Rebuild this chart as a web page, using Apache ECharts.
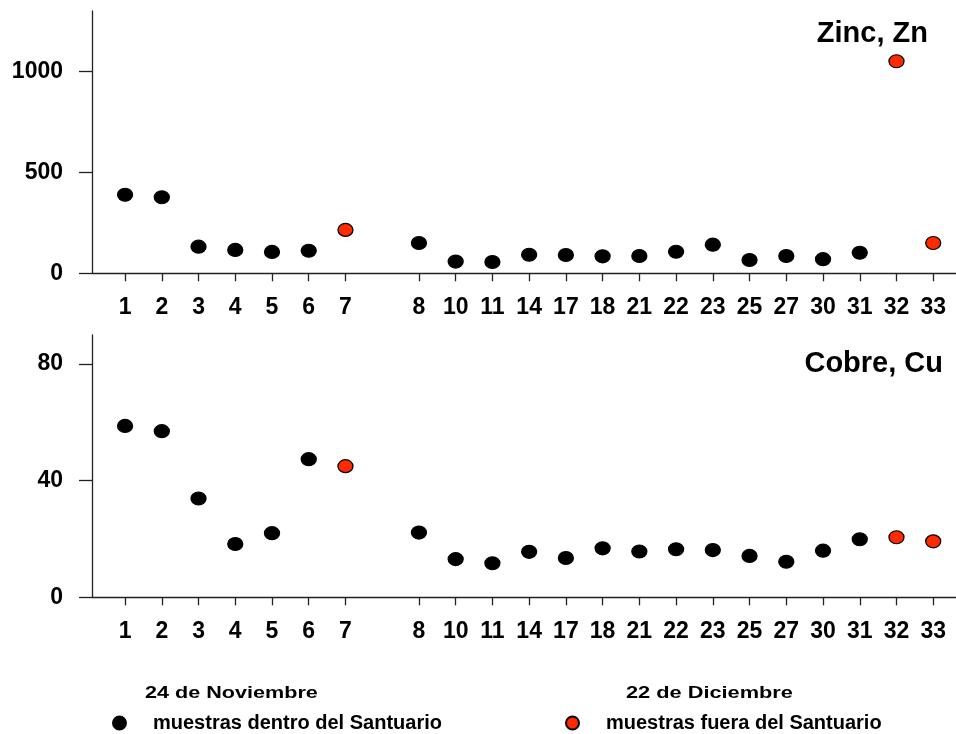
<!DOCTYPE html>
<html>
<head>
<meta charset="utf-8">
<script src="https://cdn.jsdelivr.net/npm/echarts@6/dist/echarts.min.js"></script>
<style>
  html, body { margin: 0; padding: 0; background: #fff; }
  #chart { width: 956px; height: 734px; }
</style>
</head>
<body>
<div id="chart"></div>
<script>
// Sample station numbers, in plotting order
const samples = ['1', '2', '3', '4', '5', '6', '7', '8', '10', '11', '14', '17', '18', '21', '22', '23', '25', '27', '30', '31', '32', '33'];
// Stations sampled outside the sanctuary
const outside = ['7', '32', '33'];
// Number of stations in the first campaign (24 Nov); the rest are from 22 Dec
const firstCampaignCount = 7;
// Zinc, Zn
const zinc = [389, 377, 132, 116, 106, 112, 215, 150, 58, 56, 92, 91, 84, 86, 107, 142, 66, 86, 70, 102, 1051, 150];
// Copper, Cu
const copper = [58.8, 57.0, 33.9, 18.3, 22.0, 47.4, 45.0, 22.2, 13.1, 11.7, 15.6, 13.5, 16.8, 15.7, 16.5, 16.2, 14.2, 12.2, 16.0, 19.9, 20.6, 19.2];
// Value-axis tick labels
const zincTicks = [0, 500, 1000];
const copperTicks = [0, 40, 80];
// Text
const campaignDates = ['24 de Noviembre', '22 de Diciembre'];
const seriesNames = ['muestras dentro del Santuario', 'muestras fuera del Santuario'];
const panelTitles = ['Zinc, Zn', 'Cobre, Cu'];

const FONT = '"Liberation Sans", Arial, Helvetica, sans-serif';
const RED = '#ff2a00';
const AXIS = '#222';

// Station slots along x: one empty slot separates the two campaigns
const slots = samples.map((s, i) => i + 1 + (i >= firstCampaignCount ? 1 : 0));
const labelAt = {};
slots.forEach((p, i) => { labelAt[p] = samples[i]; });

function pick(values, isOutside) {
  const out = [];
  values.forEach((v, i) => {
    if (outside.includes(samples[i]) === isOutside) out.push([slots[i], v]);
  });
  return out;
}

const chart = echarts.init(document.getElementById('chart'), null, { renderer: 'canvas' });

const labelStyle = { color: '#000', fontFamily: FONT, fontWeight: 'bold', fontSize: 23 };

function xAxis(gridIndex) {
  return {
    type: 'value', gridIndex, min: 0.1, max: 23.62,
    axisLine: { show: true, onZero: false, lineStyle: { color: AXIS, width: 1.3 } },
    axisTick: { show: true, customValues: slots, length: 8, lineStyle: { color: AXIS, width: 1.3 } },
    axisLabel: Object.assign({ customValues: slots, margin: 23, formatter: v => labelAt[v] || '' }, labelStyle),
    splitLine: { show: false }
  };
}
function yAxis(gridIndex, max, ticks) {
  return {
    type: 'value', gridIndex, min: 0, max,
    axisLine: { show: true, onZero: false, lineStyle: { color: AXIS, width: 1.3 } },
    axisTick: { show: true, customValues: ticks, length: 13, lineStyle: { color: AXIS, width: 1.3 } },
    axisLabel: Object.assign({ customValues: ticks, margin: 29, formatter: v => String(v) }, labelStyle),
    splitLine: { show: false }
  };
}
function scatter(name, data, idx, color) {
  return {
    type: 'scatter', name, data, xAxisIndex: idx, yAxisIndex: idx,
    symbol: 'circle', symbolSize: [15, 13],
    itemStyle: { color, borderColor: '#000', borderWidth: 1.2, opacity: 1 },
    emphasis: { disabled: true }
  };
}
function legend(name, left) {
  return {
    data: [name], left, top: 708, orient: 'horizontal',
    icon: 'circle', itemWidth: 15, itemHeight: 13,
    textStyle: { color: '#000', fontFamily: FONT, fontWeight: 'bold', fontSize: 20, padding: [0, 0, 0, 21] },
    selectedMode: false
  };
}

chart.setOption({
  animation: false,
  backgroundColor: '#fff',
  grid: [
    { left: 92, right: 0, top: 11, height: 262.3 },
    { left: 92, right: 0, top: 335, height: 262.3 }
  ],
  xAxis: [xAxis(0), xAxis(1)],
  yAxis: [yAxis(0, 1300, zincTicks), yAxis(1, 90, copperTicks)],
  title: [
    { text: panelTitles[0], right: 28, top: 19, padding: 0,
      textStyle: { color: '#000', fontFamily: FONT, fontWeight: 'bold', fontSize: 29 } },
    { text: panelTitles[1], right: 13, top: 349, padding: 0,
      textStyle: { color: '#000', fontFamily: FONT, fontWeight: 'bold', fontSize: 29 } }
  ],
  legend: [legend(seriesNames[0], 107), legend(seriesNames[1], 560)],
  graphic: [
    { type: 'text', x: 145, y: 693, scaleX: 1.27, silent: true,
      style: { text: campaignDates[0], fill: '#000', font: 'bold 17px ' + FONT, textVerticalAlign: 'middle' } },
    { type: 'text', x: 626, y: 693, scaleX: 1.28, silent: true,
      style: { text: campaignDates[1], fill: '#000', font: 'bold 17px ' + FONT, textVerticalAlign: 'middle' } }
  ],
  series: [
    scatter(seriesNames[0], pick(zinc, false), 0, '#000'),
    scatter(seriesNames[1], pick(zinc, true), 0, RED),
    scatter(seriesNames[0], pick(copper, false), 1, '#000'),
    scatter(seriesNames[1], pick(copper, true), 1, RED)
  ]
});
</script>
</body>
</html>
